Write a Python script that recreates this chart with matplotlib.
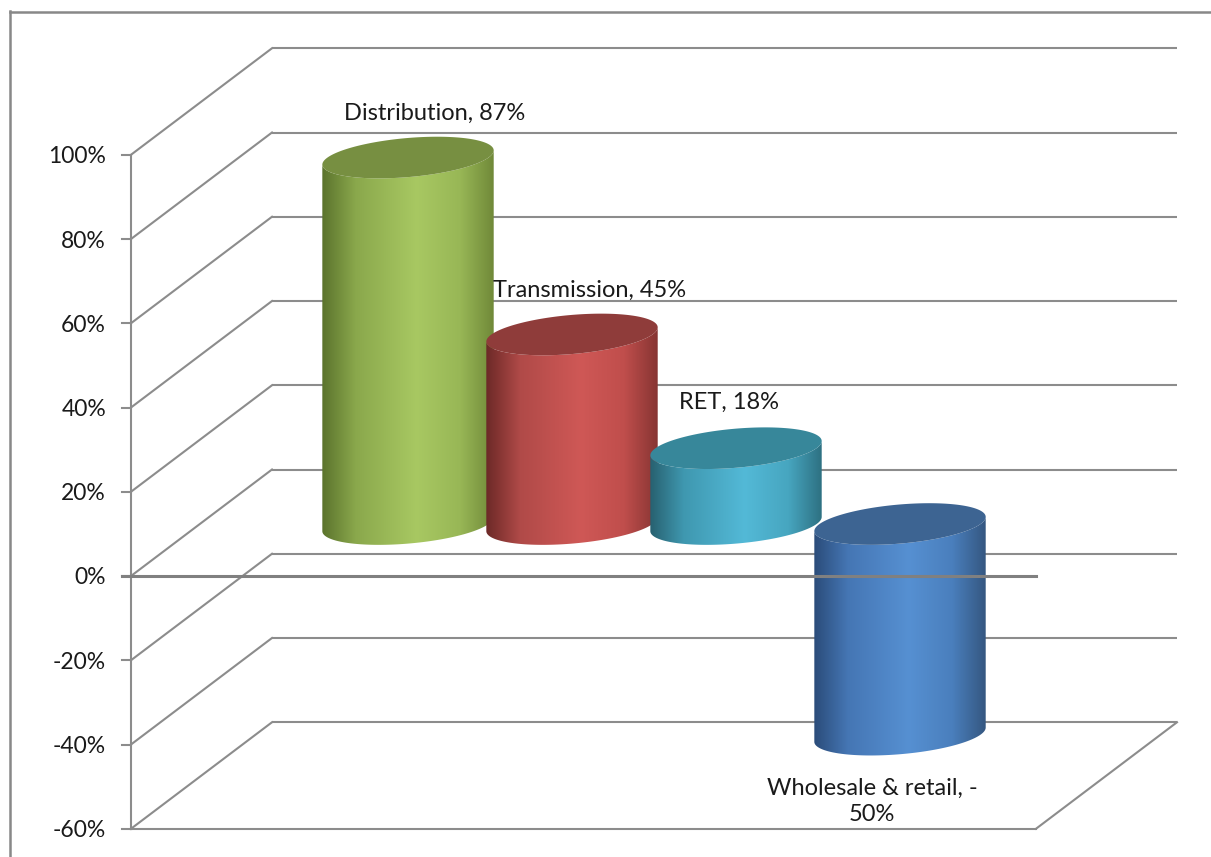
import numpy as np
import matplotlib
matplotlib.use('Agg')
import matplotlib.pyplot as plt
from matplotlib.patches import Polygon
from matplotlib.lines import Line2D
from matplotlib.colors import LinearSegmentedColormap

# ---------------- data ----------------
categories = ['Distribution', 'Transmission', 'RET', 'Wholesale & retail']
values = [87, 45, 18, -50]
label_texts = ['Distribution, 87%', 'Transmission, 45%', 'RET, 18%', 'Wholesale & retail, -\n50%']
ticks = [-60, -40, -20, 0, 20, 40, 60, 80, 100]
tick_labels = ['-60%', '-40%', '-20%', '0%', '20%', '40%', '60%', '80%', '100%']

# side gradient colours (dark edge, mid, light, mid, dark edge) and top colours
side_colors = [
    ['#5a722c', '#8aa84c', '#a8c862', '#98b756', '#6f8838'],
    ['#6a2826', '#b04a48', '#cf5856', '#c04e4c', '#853432'],
    ['#275f6e', '#3f98b0', '#53b9d7', '#47a6c0', '#2d6f80'],
    ['#2a4b78', '#4576b4', '#5690d2', '#4a7fbd', '#34567f'],
]
top_colors = ['#778f41', '#8f3c3a', '#37879a', '#3d6492']

# ---------------- layout ----------------
W, H = 1211, 857
fig = plt.figure(figsize=(W / 100, H / 100), dpi=100)
ax = fig.add_axes([0, 0, 1, 1])
ax.axis('off')

PX_X = 164.0     # pixels per category step
PX_V = 4.2125    # pixels per percent
X0_PX = 339.2    # pixel column of category 0 on the front plane
V0_PX = 576.0    # pixel row of 0 % on the front plane
ax.set_xlim(-X0_PX / PX_X, (W - X0_PX) / PX_X)
ax.set_ylim(-(H - V0_PX) / PX_V, V0_PX / PX_V)


def px(dx, dy):
    return dx / PX_X, dy / PX_V


DX, DV = px(141, 106.5)              # depth vector
XL = (131 - X0_PX) / PX_X            # front-left edge
XR = (1036 - X0_PX) / PX_X           # front-right edge
VMIN, VMAX = ticks[0], ticks[-1]
GRID = '#8c8c8c'
GLW = 1.5

# back wall gridlines + side wall diagonals
for v in ticks:
    ax.plot([XL + DX, XR + DX], [v + DV, v + DV], color=GRID, lw=GLW, zorder=1,
            solid_capstyle='butt')
    ax.plot([XL, XL + DX], [v, v + DV], color=GRID, lw=GLW, zorder=1)
# floor
ax.plot([XL, XR], [VMIN, VMIN], color=GRID, lw=GLW, zorder=1)
ax.plot([XR, XR + DX], [VMIN, VMIN + DV], color=GRID, lw=GLW, zorder=1)
# vertical axis
ax.plot([XL, XL], [VMIN, VMAX], color=GRID, lw=GLW, zorder=1)
tick_len = px(9, 0)[0]
for v, lab in zip(ticks, tick_labels):
    ax.plot([XL - tick_len, XL], [v, v], color=GRID, lw=GLW, zorder=1)
    ax.text(XL - px(25, 0)[0], v - px(0, 2)[1], lab, ha='right', va='center',
            fontsize=16.5, family='Lato', color='#1a1a1a')
# zero line (in front)
ax.plot([XL - tick_len, XR], [0, 0], color='#808080', lw=2.2, zorder=20)

# ---------------- cylinders ----------------
DEPTH = 0.488
A_PX, B_PX = 86.0, 19.5
THETA = np.deg2rad(5.0)


def ell_pts(cx, cy, phi):
    ex = A_PX * np.cos(phi) * np.cos(THETA) - B_PX * np.sin(phi) * np.sin(THETA)
    ey = A_PX * np.cos(phi) * np.sin(THETA) + B_PX * np.sin(phi) * np.cos(THETA)
    return cx + ex / PX_X, cy + ey / PX_V


phi_r = np.arctan(-(B_PX / A_PX) * np.tan(THETA))
phi_l = phi_r + np.pi
arc = np.linspace(phi_l, phi_r + 2 * np.pi, 120)
full = np.linspace(0, 2 * np.pi, 240)

label_offsets_px = [(27, 44), (18, 44), (-7, 46), (-28, -67)]

for i, (v, sc, tc) in enumerate(zip(values, side_colors, top_colors)):
    cx = i + DEPTH * DX
    base = DEPTH * DV
    top_v = base + max(v, 0)
    bot_v = base + min(v, 0)
    tx, ty = ell_pts(cx, top_v, arc)
    bx, by = ell_pts(cx, bot_v, arc)
    body = np.column_stack([np.concatenate([tx, bx[::-1]]),
                            np.concatenate([ty, by[::-1]])])
    z = 5 + i * 2
    patch = Polygon(body, closed=True, facecolor='none', edgecolor='none', zorder=z)
    ax.add_patch(patch)
    cmap = LinearSegmentedColormap.from_list(
        'c%d' % i, list(zip([0.0, 0.2, 0.55, 0.8, 1.0], sc)))
    grad = np.linspace(0, 1, 256)[np.newaxis, :]
    hw = A_PX / PX_X
    im = ax.imshow(grad, extent=[cx - hw * 1.01, cx + hw * 1.01,
                                 bot_v - 30 / PX_V, top_v + 30 / PX_V],
                   aspect='auto', cmap=cmap, zorder=z, interpolation='bilinear')
    im.set_clip_path(patch)
    fx, fy = ell_pts(cx, top_v, full)
    ax.add_patch(Polygon(np.column_stack([fx, fy]), closed=True,
                         facecolor=tc, edgecolor='none', zorder=z + 1))
    # label
    ox, oy = label_offsets_px[i]
    anchor_v = top_v if v >= 0 else bot_v
    ax.annotate(label_texts[i], xy=(cx, anchor_v), xytext=(ox * 0.72, oy * 0.72),
                textcoords='offset points', ha='center', va='center',
                fontsize=17, family='Lato', color='#1a1a1a', zorder=30,
                linespacing=1.3)

ax.set_xlim(-X0_PX / PX_X, (W - X0_PX) / PX_X)
ax.set_ylim(-(H - V0_PX) / PX_V, V0_PX / PX_V)

# chart border (top and left visible)
fig.add_artist(Line2D([9.5 / W, 1], [1 - 11.5 / H, 1 - 11.5 / H],
                      transform=fig.transFigure, color='#888888', lw=1.8))
fig.add_artist(Line2D([10.5 / W, 10.5 / W], [1 - 11 / H, 0],
                      transform=fig.transFigure, color='#888888', lw=1.8))

fig.savefig('out.png', dpi=100, facecolor='white')
